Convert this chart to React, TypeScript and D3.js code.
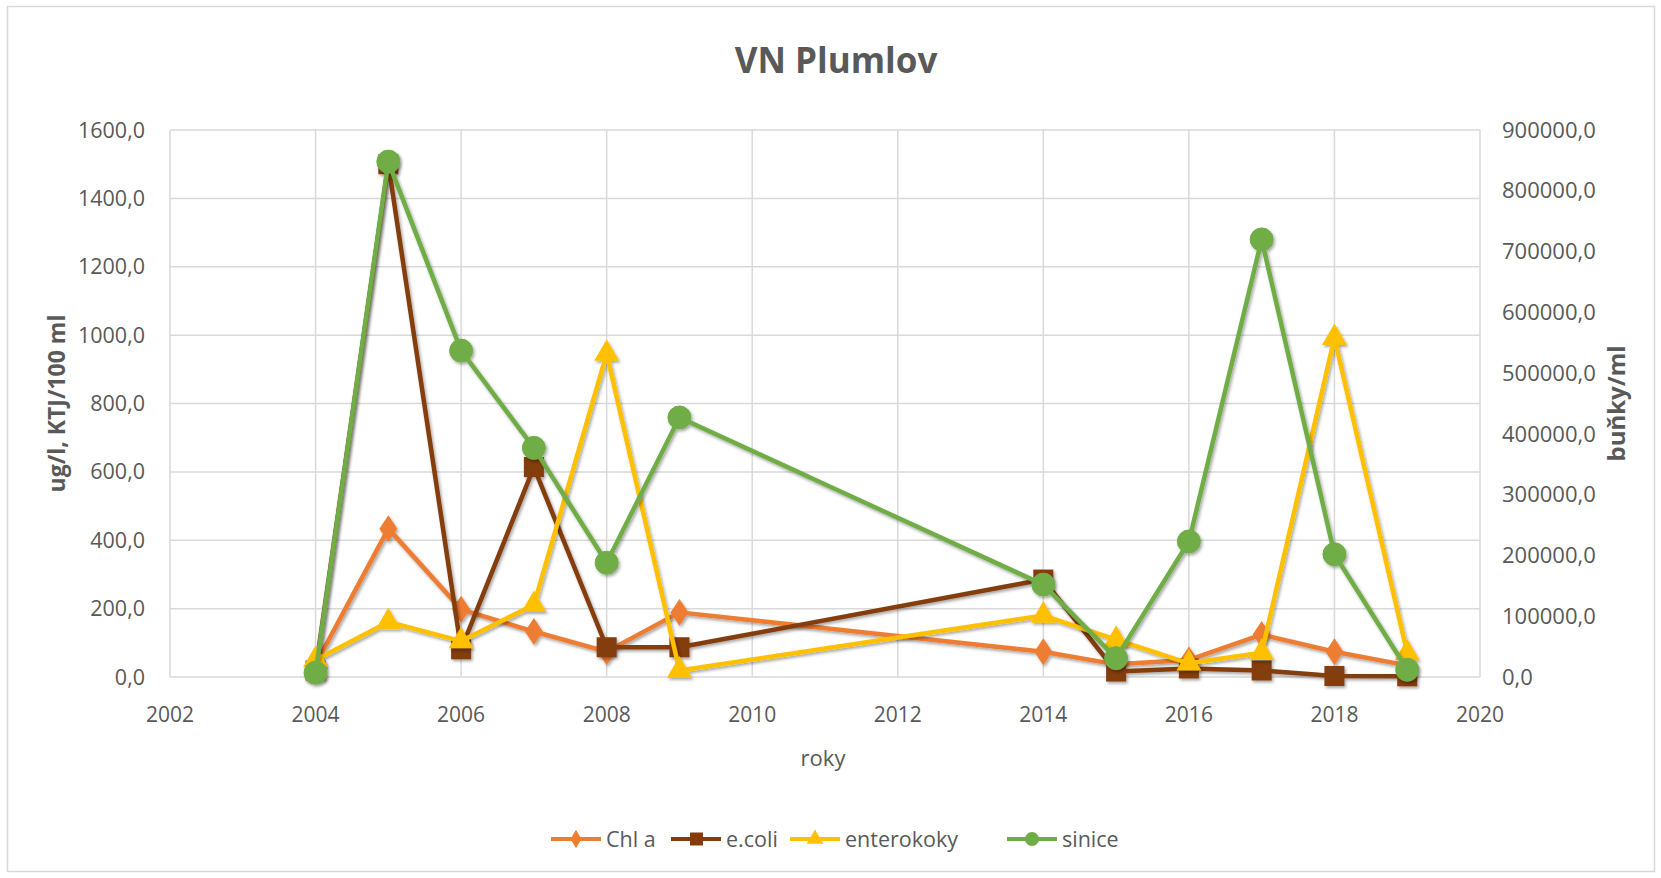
import React from 'react';
import * as d3 from 'd3';

const years = [2004, 2005, 2006, 2007, 2008, 2009, 2014, 2015, 2016, 2017, 2018, 2019];
const chlA = [37, 434, 198, 133, 74, 189, 74, 37, 50, 124, 74, 34];
const ecoli = [19, 1500, 81, 614, 87, 87, 285, 16, 25, 19, 3, 2];
const enterokoky = [50, 161, 105, 211, 946, 19, 180, 109, 40, 71, 992, 70];
const sinice = [7000, 848000, 537000, 377000, 188000, 427000, 152000, 31000, 223000, 720000, 202000, 12000];

const xTicks = [2002, 2004, 2006, 2008, 2010, 2012, 2014, 2016, 2018, 2020];
const leftTicks = [0, 200, 400, 600, 800, 1000, 1200, 1400, 1600];
const rightTicks = [0, 100000, 200000, 300000, 400000, 500000, 600000, 700000, 800000, 900000];
const seriesNames = ['Chl a', 'e.coli', 'enterokoky', 'sinice'];
const seriesColors = ['#ED7D31', '#843C0C', '#FFC000', '#70AD47'];
const seriesShapes = ['diamond', 'square', 'triangle', 'circle'];

const W = 1661;
const H = 878;
const M = { left: 170, right: 1480, top: 130, bottom: 677 };
const FONT = '"Open Sans", Lato, sans-serif';
const TXT = '#595959';

const fmt = (v: number) => v.toFixed(1).replace('.', ',');

function Marker({ shape, x, y, color }: { shape: string; x: number; y: number; color: string }) {
  if (shape === 'circle') return <circle cx={x} cy={y} r={11.5} fill={color} stroke={color} strokeWidth={1} />;
  if (shape === 'square') return <rect x={x - 10} y={y - 10} width={20} height={20} fill={color} />;
  if (shape === 'triangle') {
    const p = d3.symbol(d3.symbolTriangle, 270)();
    return <path d={p || ''} transform={`translate(${x},${y})`} fill={color} />;
  }
  const p = d3.symbol(d3.symbolDiamond, 210)();
  return <path d={p || ''} transform={`translate(${x},${y}) scale(1.15,1)`} fill={color} />;
}

export default function App() {
  const x = d3.scaleLinear().domain([2002, 2020]).range([M.left, M.right]);
  const yL = d3.scaleLinear().domain([0, 1600]).range([M.bottom, M.top]);
  const yR = d3.scaleLinear().domain([0, 900000]).range([M.bottom, M.top]);

  const series = [
    { name: seriesNames[0], vals: chlA, y: yL },
    { name: seriesNames[1], vals: ecoli, y: yL },
    { name: seriesNames[2], vals: enterokoky, y: yL },
    { name: seriesNames[3], vals: sinice, y: yR },
  ];

  const line = (vals: number[], ys: d3.ScaleLinear<number, number>) =>
    d3.line<number>().x((_, i) => x(years[i])).y((d) => ys(d))(vals) || '';

  const legendItems = [
    { lineX: 551, textX: 606 },
    { lineX: 671, textX: 726 },
    { lineX: 790, textX: 845 },
    { lineX: 1007, textX: 1062 },
  ];
  const legendY = 839;

  return (
    <svg width={W} height={H} style={{ position: 'absolute', left: 0, top: 0, background: '#fff' }} fontFamily={FONT}>
      <defs>
        <filter id="sh" x="-20%" y="-20%" width="140%" height="140%">
          <feDropShadow dx="1.5" dy="2" stdDeviation="1.5" floodColor="#000" floodOpacity="0.35" />
        </filter>
      </defs>
      <rect x={0} y={0} width={W} height={H} fill="#fff" />
      <rect x={7.5} y={6.5} width={1647} height={865} fill="none" stroke="#d9d9d9" strokeWidth={1.5} />

      <text x={836} y={73} textAnchor="middle" fontSize={35} fontWeight={700} fill={TXT}>VN Plumlov</text>

      {/* gridlines */}
      {leftTicks.map((t) => (
        <line key={'h' + t} x1={M.left} x2={M.right} y1={yL(t)} y2={yL(t)} stroke="#d9d9d9" strokeWidth={1.5} />
      ))}
      {xTicks.map((t) => (
        <line key={'v' + t} x1={x(t)} x2={x(t)} y1={M.top} y2={M.bottom} stroke="#d9d9d9" strokeWidth={1.5} />
      ))}

      {/* left ticks */}
      {leftTicks.map((t) => (
        <text key={'l' + t} x={145} y={yL(t)} dy="0.35em" textAnchor="end" fontSize={21.5} fill={TXT}>{fmt(t)}</text>
      ))}
      {/* right ticks */}
      {rightTicks.map((t) => (
        <text key={'r' + t} x={1502} y={yR(t)} dy="0.35em" textAnchor="start" fontSize={22} fill={TXT}>{fmt(t)}</text>
      ))}
      {/* x ticks */}
      {xTicks.map((t) => (
        <text key={'x' + t} x={x(t)} y={715} dy="0.35em" textAnchor="middle" fontSize={21} fill={TXT}>{t}</text>
      ))}

      <text x={823} y={758} dy="0.35em" textAnchor="middle" fontSize={22} fill={TXT}>roky</text>
      <text transform={`translate(57,${(M.top + M.bottom) / 2}) rotate(-90)`} textAnchor="middle" dy="0.35em" fontSize={23} fontWeight={700} fill={TXT}>ug/l, KTJ/100 ml</text>
      <text transform={`translate(1617,${(M.top + M.bottom) / 2}) rotate(-90)`} textAnchor="middle" dy="0.35em" fontSize={24} fontWeight={700} fill={TXT}>buňky/ml</text>

      {/* series */}
      {series.map((s, si) => (
        <g key={s.name} filter="url(#sh)">
          <path d={line(s.vals, s.y)} fill="none" stroke={seriesColors[si]} strokeWidth={4.5} strokeLinejoin="round" />
          {s.vals.map((v, i) => (
            <Marker key={i} shape={seriesShapes[si]} x={x(years[i])} y={s.y(v)} color={seriesColors[si]} />
          ))}
        </g>
      ))}

      {/* legend */}
      {legendItems.map((li, i) => (
        <g key={seriesNames[i]}>
          <line x1={li.lineX} x2={li.lineX + 50} y1={legendY} y2={legendY} stroke={seriesColors[i]} strokeWidth={4} />
          {seriesShapes[i] === 'circle' && <circle cx={li.lineX + 25} cy={legendY} r={7} fill={seriesColors[i]} />}
          {seriesShapes[i] === 'square' && <rect x={li.lineX + 19} y={legendY - 6.5} width={13} height={13} fill={seriesColors[i]} />}
          {seriesShapes[i] === 'triangle' && <path d={d3.symbol(d3.symbolTriangle, 120)() || ''} transform={`translate(${li.lineX + 25},${legendY})`} fill={seriesColors[i]} />}
          {seriesShapes[i] === 'diamond' && <path d={d3.symbol(d3.symbolDiamond, 100)() || ''} transform={`translate(${li.lineX + 25},${legendY})`} fill={seriesColors[i]} />}
          <text x={li.textX} y={legendY} dy="0.35em" fontSize={21.5} fill={TXT}>{seriesNames[i]}</text>
        </g>
      ))}
    </svg>
  );
}
